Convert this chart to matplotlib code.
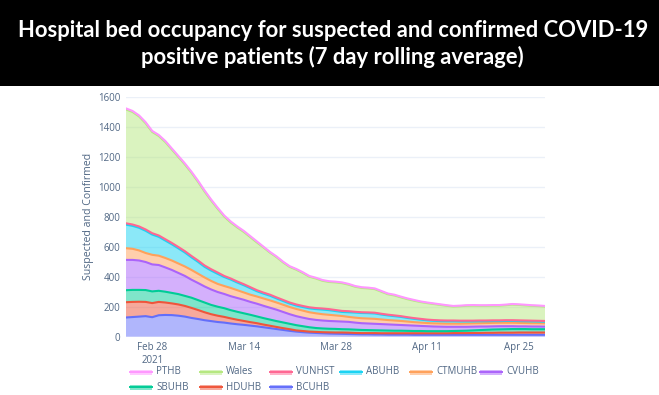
import matplotlib.pyplot as plt
from matplotlib.patches import Rectangle
from matplotlib.lines import Line2D
import numpy as np
import pandas as pd

dates = pd.date_range('2021-02-24', '2021-04-29', freq='D')

# bottom to top of the stack
BCUHB = [128, 131, 134, 137, 130, 143, 145, 144, 140, 134,
         125, 118, 110, 104, 98, 94, 88, 83, 79, 74,
         69, 63, 57, 51, 45, 39, 34, 30, 27, 25,
         23, 21, 20, 19, 18, 17, 16, 16, 15, 15,
         14, 14, 14, 14, 13, 13, 13, 13, 13, 13,
         13, 13, 13, 13, 13, 13, 13, 13, 13, 13,
         13, 13, 13, 13, 13]
HDUHB = [102, 101, 99, 95, 94, 89, 83, 78, 75, 71,
         67, 60, 53, 46, 42, 38, 34, 30, 26, 23,
         21, 18, 16, 14, 12, 11, 8, 8, 7, 7,
         7, 8, 8, 9, 9, 8, 8, 8, 9, 8,
         9, 9, 9, 9, 10, 10, 10, 10, 10, 10,
         11, 11, 11, 12, 12, 13, 13, 14, 14, 14,
         15, 15, 15, 15, 15]
SBUHB = [80, 80, 79, 79, 78, 74, 72, 70, 69, 67,
         68, 66, 65, 62, 60, 58, 55, 53, 51, 49,
         45, 43, 41, 39, 38, 36, 35, 32, 29, 26,
         25, 24, 24, 22, 22, 22, 21, 20, 19, 19,
         18, 17, 17, 16, 15, 15, 14, 14, 14, 14,
         14, 15, 16, 17, 19, 20, 22, 22, 23, 24,
         23, 23, 22, 22, 22]
CVUHB = [202, 200, 196, 187, 180, 172, 162, 153, 141, 133,
         120, 114, 107, 103, 98, 95, 93, 92, 90, 86,
         85, 82, 79, 76, 70, 64, 60, 57, 55, 54,
         53, 52, 51, 51, 50, 47, 45, 44, 43, 42,
         41, 40, 38, 37, 36, 34, 33, 31, 30, 29,
         28, 27, 26, 25, 24, 22, 21, 21, 20, 19,
         18, 18, 18, 18, 17]
CTMUHB = [78, 74, 67, 60, 64, 62, 63, 63, 63, 63,
          65, 62, 60, 57, 54, 53, 55, 52, 49, 48,
          48, 49, 49, 48, 48, 48, 48, 47, 45, 44,
          42, 41, 39, 37, 33, 33, 33, 33, 33, 31,
          29, 28, 27, 25, 23, 22, 21, 21, 21, 21,
          21, 21, 22, 22, 22, 23, 23, 23, 23, 23,
          23, 22, 22, 22, 22]
ABUHB = [157, 153, 151, 148, 135, 126, 116, 108, 101, 93,
         84, 79, 71, 69, 67, 60, 56, 51, 48, 43,
         35, 32, 31, 27, 25, 23, 23, 24, 26, 28,
         31, 31, 29, 27, 31, 34, 35, 36, 36, 33,
         31, 29, 27, 24, 22, 20, 18, 17, 16, 16,
         16, 15, 14, 13, 13, 12, 12, 11, 12, 12,
         12, 12, 12, 11, 11]
VUNHST = [9, 9, 9, 9, 9, 9, 9, 9, 9, 9,
          9, 9, 9, 9, 9, 7, 7, 7, 7, 7,
          7, 7, 7, 7, 7, 7, 7, 7, 7, 7,
          7, 7, 7, 7, 7, 5, 5, 5, 5, 5,
          5, 5, 5, 5, 5, 5, 5, 5, 5, 5,
          5, 5, 5, 5, 5, 5, 5, 5, 5, 5,
          5, 5, 5, 5, 5]
Wales = [759, 750, 733, 708, 675, 663, 648, 623, 600, 578,
         555, 525, 493, 458, 425, 396, 373, 360, 348, 333,
         318, 301, 280, 268, 250, 237, 232, 220, 204, 197,
         185, 181, 184, 185, 177, 167, 162, 160, 157, 147,
         136, 133, 125, 120, 116, 112, 110, 107, 103, 98,
         93, 96, 99, 100, 98, 98, 98, 98, 100, 104,
         103, 101, 99, 98, 96]
PTHB = [7, 7, 7, 7, 7, 7, 7, 7, 7, 7,
        7, 7, 7, 7, 7, 7, 7, 7, 7, 7,
        7, 5, 5, 5, 5, 5, 5, 5, 5, 5,
        5, 5, 5, 5, 5, 5, 5, 5, 5, 5,
        5, 5, 5, 5, 5, 4, 4, 4, 4, 4,
        4, 4, 4, 4, 4, 4, 4, 4, 4, 4,
        4, 4, 4, 4, 4]

names = ['BCUHB', 'HDUHB', 'SBUHB', 'CVUHB', 'CTMUHB', 'ABUHB', 'VUNHST', 'Wales', 'PTHB']
series = [BCUHB, HDUHB, SBUHB, CVUHB, CTMUHB, ABUHB, VUNHST, Wales, PTHB]
colors = ['#636EFA', '#EF553B', '#00CC96', '#AB63FA', '#FFA15A',
          '#19D3F3', '#FF6692', '#B6E880', '#FF97FF']

W, H = 659, 395
fig = plt.figure(figsize=(W / 100, H / 100), dpi=100)
fig.patch.set_facecolor('white')

# black title banner
banner = fig.add_axes([0, 1 - 86 / H, 1, 86 / H])
banner.set_facecolor('black')
banner.set_xticks([])
banner.set_yticks([])
for s in banner.spines.values():
    s.set_visible(False)
banner.text(0.505, 0.65, 'Hospital bed occupancy for suspected and confirmed COVID-19',
            color='white', fontsize=15.8, fontweight='bold', family='Lato',
            ha='center', va='center', transform=banner.transAxes)
banner.text(0.505, 0.34, 'positive patients (7 day rolling average)',
            color='white', fontsize=15.8, fontweight='bold', family='Lato',
            ha='center', va='center', transform=banner.transAxes)

x0, x1, ytop, ybot = 126, 545, 96.7, 336.7
ax = fig.add_axes([x0 / W, 1 - ybot / H, (x1 - x0) / W, (ybot - ytop) / H])
ax.set_facecolor('white')

ax.stackplot(dates, *series, colors=colors, alpha=0.5, linewidth=0, zorder=2)
tops = np.cumsum(np.array(series), axis=0)
for top, c in zip(tops, colors):
    ax.plot(dates, top, color=c, lw=1.5, zorder=3)

ax.set_xlim(dates[0], dates[-1])
ax.set_ylim(0, 1600)
ax.set_yticks(range(0, 1601, 200))
ax.grid(axis='y', color='#EBF0F8', lw=1, zorder=0)
ax.set_axisbelow(True)
for s in ax.spines.values():
    s.set_visible(False)

tick_dates = pd.to_datetime(['2021-02-28', '2021-03-14', '2021-03-28', '2021-04-11', '2021-04-25'])
ax.set_xticks(tick_dates)
ax.set_xticklabels(['Feb 28\n2021', 'Mar 14', 'Mar 28', 'Apr 11', 'Apr 25'])
ax.tick_params(length=0, labelsize=7, labelcolor='#506784')
ax.tick_params(axis='x', pad=4)
ax.tick_params(axis='y', pad=4)
for lab in ax.get_xticklabels() + ax.get_yticklabels():
    lab.set_family('Open Sans')
ax.set_ylabel('Suspected and Confirmed', fontsize=7.6, color='#506784',
              family='Open Sans', labelpad=3)

# legend, plotly style, two rows
order = ['PTHB', 'Wales', 'VUNHST', 'ABUHB', 'CTMUHB', 'CVUHB', 'SBUHB', 'HDUHB', 'BCUHB']
for i, name in enumerate(order):
    c = colors[names.index(name)]
    row, col = divmod(i, 6)
    lx = 130 + col * 70
    ly = 372 + row * 15
    fig.patches.append(Rectangle((lx / W, 1 - (ly + 2.5) / H), 22 / W, 5 / H,
                                 transform=fig.transFigure, facecolor=c, alpha=0.5,
                                 edgecolor='none'))
    fig.lines.append(Line2D([lx / W, (lx + 22) / W], [1 - (ly - 0.5) / H, 1 - (ly - 0.5) / H],
                            transform=fig.transFigure, color=c, lw=1.4))
    fig.text((lx + 26) / W, 1 - ly / H, name, fontsize=7, color='#506784',
             family='Open Sans', va='center', ha='left')

fig.savefig('out.png', dpi=100)
